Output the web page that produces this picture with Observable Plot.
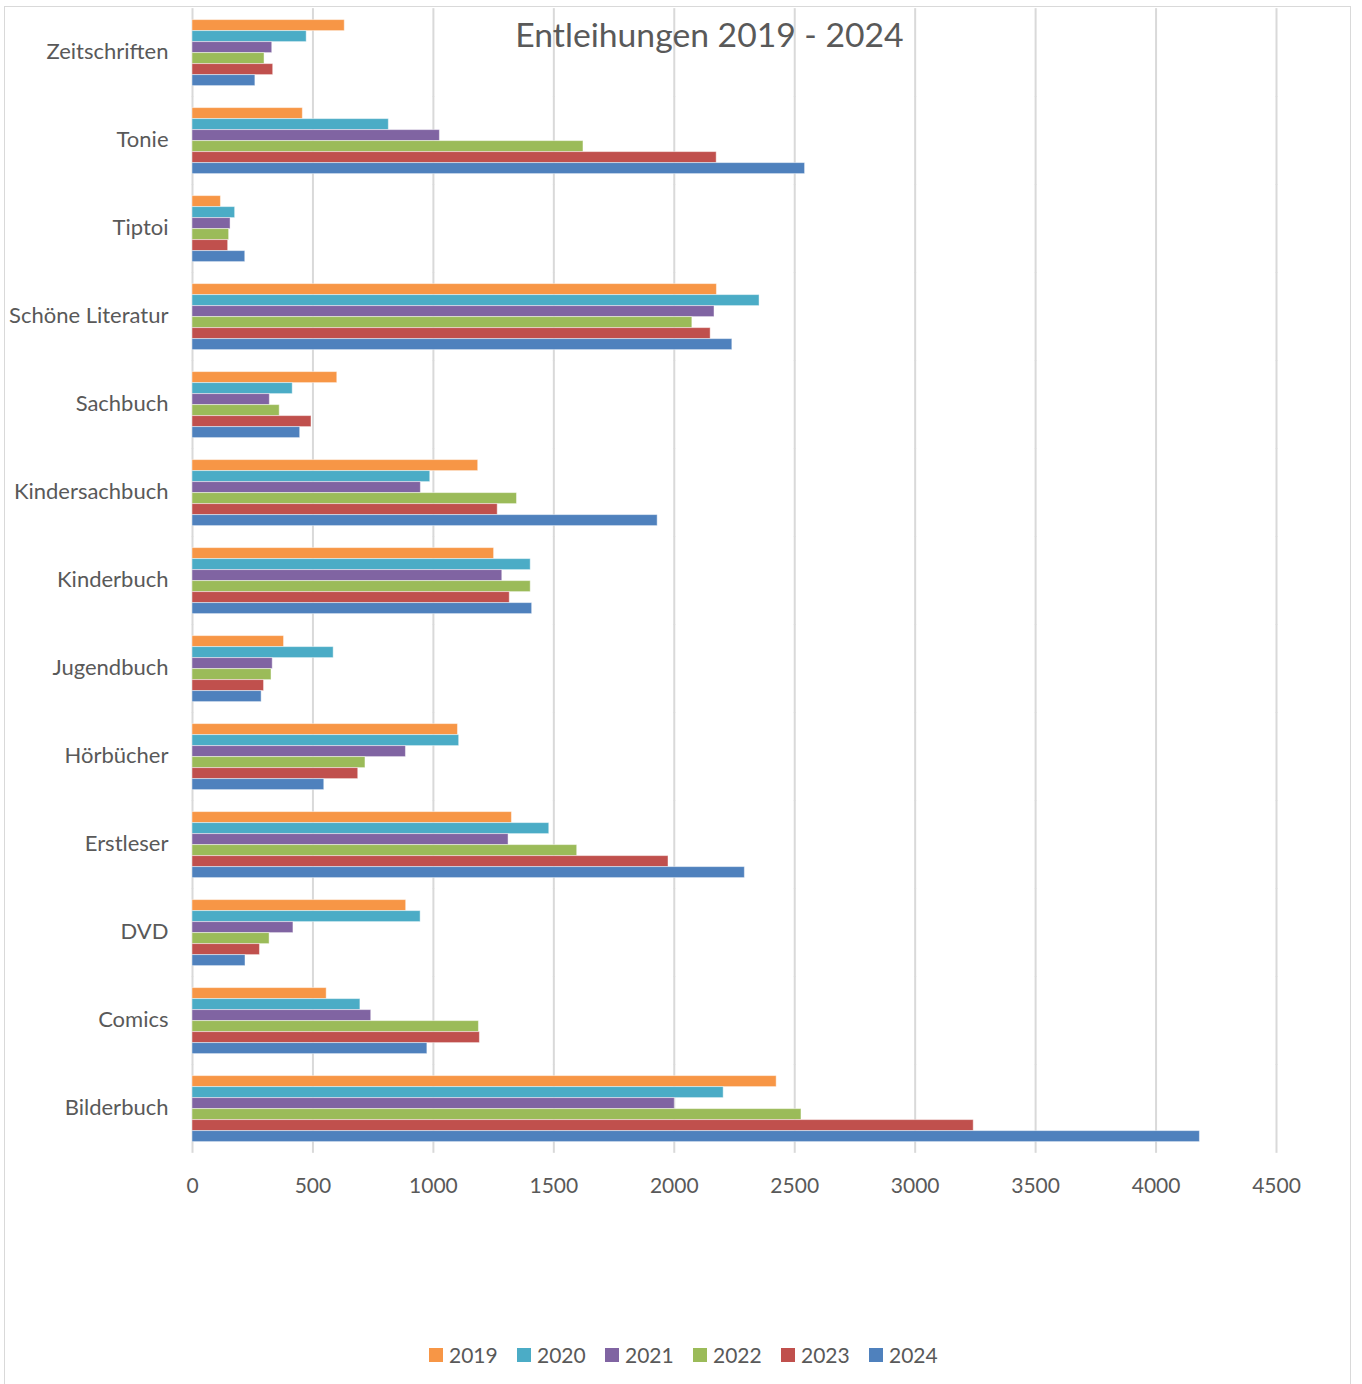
<!DOCTYPE html>
<html>
<head>
<meta charset="utf-8">
<script src="https://cdn.jsdelivr.net/npm/d3@7"></script>
<script src="https://cdn.jsdelivr.net/npm/@observablehq/plot@0.6"></script>
<style>
  html, body { margin: 0; padding: 0; background: #fff; }
  #wrap { position: relative; width: 1362px; height: 1384px; overflow: hidden; font-family: Lato, sans-serif; color: #595959; }
  #frame { position: absolute; left: 4px; top: 6px; width: 1347px; height: 1390px; border: 1.5px solid #d9d9d9; box-sizing: border-box; pointer-events: none; }
  #chart { position: absolute; left: 0; top: 0; }
  #title { position: absolute; left: 0; width: 1419px; top: 17px; text-align: center; font-size: 33.7px; line-height: 34px; color: #595959; white-space: nowrap; }
  #legend { position: absolute; left: 429px; top: 1343px; display: flex; font-size: 21px; line-height: 24px; color: #595959; }
  #legend .item { display: flex; align-items: center; width: 88px; }
  #legend .sw { width: 14px; height: 14px; margin-right: 6px; }
</style>
</head>
<body>
<div id="wrap">
  <div id="chart"></div>
  <div id="title">Entleihungen 2019 - 2024</div>
  <div id="legend"></div>
  <div id="frame"></div>
</div>
<script>
const categories = ["Zeitschriften","Tonie","Tiptoi","Schöne Literatur","Sachbuch","Kindersachbuch","Kinderbuch","Jugendbuch","Hörbücher","Erstleser","DVD","Comics","Bilderbuch"];
const years = ["2019","2020","2021","2022","2023","2024"];
const v2019 = [632, 458, 118, 2177, 601, 1186, 1252, 380, 1102, 1326, 887, 557, 2425];
const v2020 = [474, 815, 177, 2354, 416, 987, 1404, 586, 1107, 1481, 947, 697, 2205];
const v2021 = [331, 1027, 158, 2167, 321, 948, 1286, 333, 886, 1312, 419, 742, 2002];
const v2022 = [299, 1623, 152, 2075, 362, 1347, 1404, 328, 718, 1597, 320, 1189, 2528];
const v2023 = [335, 2176, 148, 2151, 494, 1267, 1317, 297, 688, 1976, 280, 1193, 3243];
const v2024 = [261, 2543, 219, 2241, 447, 1931, 1410, 287, 547, 2293, 220, 975, 4182];
const xTicks = [0, 500, 1000, 1500, 2000, 2500, 3000, 3500, 4000, 4500];
const colors = ["#F79646","#4BACC6","#8064A2","#9BBB59","#C0504D","#4F81BD"];

const series = [v2019, v2020, v2021, v2022, v2023, v2024];
const data = [];
categories.forEach((c, i) => years.forEach((y, j) => data.push({category: c, year: y, value: series[j][i]})));

const W = 1362, H = 1210, plotTop = 7.4, plotBottom = 1153.8;
const padIn = 0.2345, padOut = padIn / 2;
const step = (plotBottom - plotTop) / (categories.length - padIn + 2 * padOut);
const halfGap = step * padIn / 2 + 0.5;

const chart = Plot.plot({
  width: W,
  height: H,
  marginLeft: 192,
  marginRight: 86,
  marginTop: plotTop,
  marginBottom: H - plotBottom,
  style: {fontFamily: "Lato, sans-serif", color: "#595959", background: "transparent"},
  x: {domain: [0, 4500], label: null},
  fy: {domain: categories, paddingInner: padIn, paddingOuter: padOut, label: null},
  y: {domain: years, padding: 0, axis: null},
  color: {domain: years, range: colors},
  marks: [
    Plot.ruleX(xTicks, {x: d => d, stroke: "#d9d9d9", strokeWidth: 2, insetTop: -halfGap, insetBottom: -halfGap}),
    Plot.barX(data, {fy: "category", y: "year", x: "value", fill: "year", stroke: "#ffffff", strokeOpacity: 0.45, strokeWidth: 1}),
    Plot.axisX({ticks: xTicks, tickFormat: d => String(d), tickSize: 0, tickPadding: 36, fontSize: 21, fill: "#595959", label: null}),
    Plot.axisFy({anchor: "left", tickSize: 0, tickPadding: 24, fontSize: 22, dy: -1, fill: "#595959", label: null})
  ]
});
document.getElementById("chart").appendChild(chart);

const legend = document.getElementById("legend");
years.forEach((y, j) => {
  const it = document.createElement("div");
  it.className = "item";
  const sw = document.createElement("span");
  sw.className = "sw";
  sw.style.background = colors[j];
  const t = document.createElement("span");
  t.textContent = y;
  it.appendChild(sw); it.appendChild(t);
  legend.appendChild(it);
});
</script>
</body>
</html>
